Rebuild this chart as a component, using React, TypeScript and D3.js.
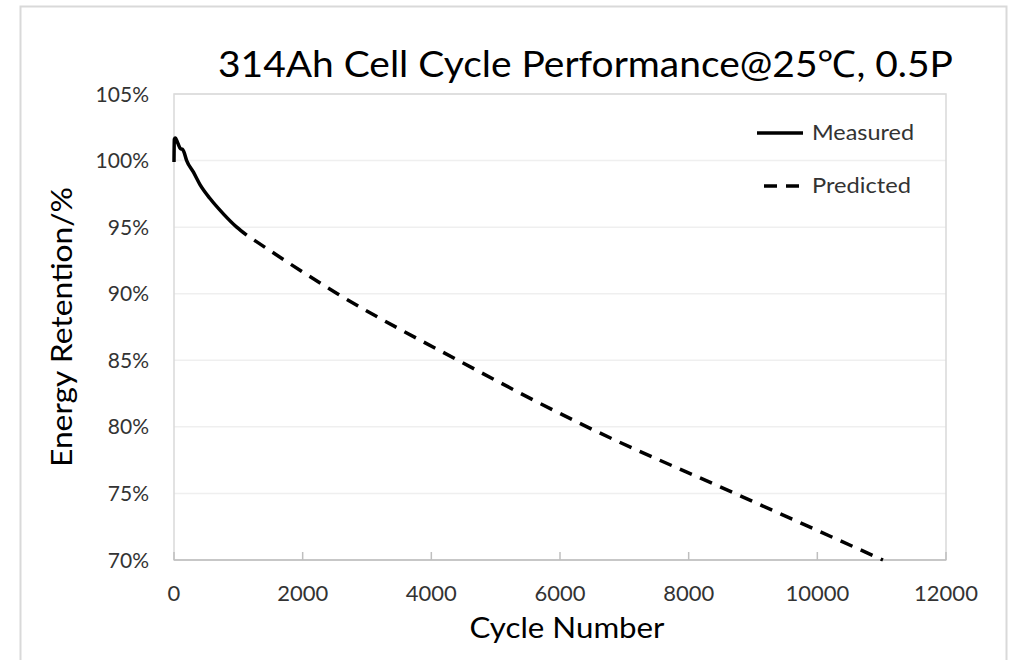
import React from "react";
import * as d3 from "d3";

const title = "314Ah Cell Cycle Performance@25℃, 0.5P";
const xLabel = "Cycle Number";
const yLabel = "Energy Retention/%";
const xTicks = [0, 2000, 4000, 6000, 8000, 10000, 12000];
const yTicks = [70, 75, 80, 85, 90, 95, 100, 105];

const measuredCycles = [0, 5, 20, 60, 100, 130, 150, 197, 300, 404, 560, 767, 975, 1130];
const measuredValues = [99.9, 101.6, 101.7, 101.3, 100.9, 100.85, 100.7, 100.0, 99.15, 98.2, 97.15, 96.0, 95.0, 94.4];

const predictedCycles = [1130, 2540, 4415, 6420, 8720, 11020];
const predictedValues = [94.4, 90, 85, 80, 75, 70];

const legendNames = ["Measured", "Predicted"];

const FONT = "Lato, Carlito, Calibri, 'Open Sans', sans-serif";

export default function App() {
  const W = 1012;
  const H = 660;
  const left = 174, right = 946, top = 94, bottom = 560;

  const x = d3.scaleLinear().domain([0, 12000]).range([left, right]);
  const y = d3.scaleLinear().domain([70, 105]).range([bottom, top]);

  const measured = measuredCycles.map((c, i) => [c, measuredValues[i]] as [number, number]);
  const predicted = predictedCycles.map((c, i) => [c, predictedValues[i]] as [number, number]);

  const line = d3
    .line<[number, number]>()
    .x((d) => x(d[0]))
    .y((d) => y(d[1]))
    .curve(d3.curveMonotoneX);

  return (
    <svg
      width={W}
      height={H}
      style={{ position: "absolute", left: 0, top: 0, background: "#fff" }}
      fontFamily={FONT}
    >
      <rect x={0} y={0} width={W} height={H} fill="#fff" />
      {/* chart area border */}
      <rect x={20.5} y={6.5} width={986} height={700} fill="none" stroke="#d9d9d9" strokeWidth={2} />

      {/* gridlines */}
      {yTicks.map((t) => (
        <line key={t} x1={left} x2={right} y1={y(t)} y2={y(t)} stroke="#efefef" strokeWidth={1.5} />
      ))}

      {/* plot area border */}
      <rect x={left} y={top} width={right - left} height={bottom - top} fill="none" stroke="#d9d9d9" strokeWidth={1.5} />

      {/* x axis */}
      <line x1={left} x2={right} y1={bottom} y2={bottom} stroke="#bfbfbf" strokeWidth={1.5} />
      {xTicks.map((t) => (
        <line key={t} x1={x(t)} x2={x(t)} y1={bottom} y2={bottom - 8} stroke="#bfbfbf" strokeWidth={1.5} />
      ))}
      {xTicks.map((t) => (
        <text key={t} x={x(t)} y={601} textAnchor="middle" fontSize={22} fill="#333">
          {t}
        </text>
      ))}

      {/* y labels */}
      {yTicks.map((t) => (
        <text key={t} x={149} y={y(t)} dy="0.36em" textAnchor="end" fontSize={21} fill="#333">
          {t}%
        </text>
      ))}

      {/* series */}
      <path
        d={line(predicted) || ""}
        fill="none"
        stroke="#000"
        strokeWidth={3.5}
        strokeDasharray="13 9"
        strokeDashoffset={13}
      />
      <path d={line(measured) || ""} fill="none" stroke="#000" strokeWidth={3.5} strokeLinejoin="round" />

      {/* legend */}
      <line x1={757} x2={803} y1={133} y2={133} stroke="#000" strokeWidth={3.5} />
      <text x={812} y={139.5} fontSize={22} fill="#333" textLength={102} lengthAdjust="spacingAndGlyphs">{legendNames[0]}</text>
      <line x1={757} x2={803} y1={186} y2={186} stroke="#000" strokeWidth={3.5} strokeDasharray="13 9" strokeDashoffset={-7} />
      <text x={812} y={193} fontSize={22} fill="#333" textLength={99} lengthAdjust="spacingAndGlyphs">{legendNames[1]}</text>

      {/* titles */}
      <text x={218} y={77} fontSize={37} fill="#000" textLength={735} lengthAdjust="spacingAndGlyphs">{title}</text>
      <text x={567} y={638} textAnchor="middle" fontSize={29} fill="#000" textLength={195} lengthAdjust="spacingAndGlyphs">{xLabel}</text>
      <text
        transform={`translate(72,327) rotate(-90)`}
        textAnchor="middle"
        fontSize={29}
        fill="#000"
        textLength={280}
        lengthAdjust="spacingAndGlyphs"
      >
        {yLabel}
      </text>
    </svg>
  );
}
